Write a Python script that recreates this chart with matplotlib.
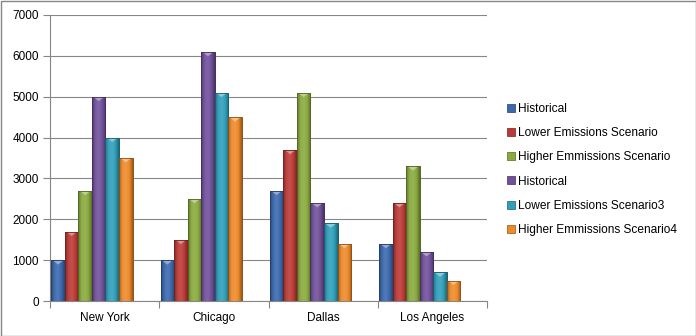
import numpy as np
import matplotlib
matplotlib.use("Agg")
import matplotlib.pyplot as plt
from matplotlib.colors import to_rgb, LinearSegmentedColormap
from matplotlib.patches import Patch, Rectangle

cities = ["New York", "Chicago", "Dallas", "Los Angeles"]
series_names = ["Historical", "Lower Emissions Scenario", "Higher Emmissions Scenario",
                "Historical", "Lower Emissions Scenario3", "Higher Emmissions Scenario4"]
historical_a = [1000, 1000, 2700, 1400]
lower_a = [1700, 1500, 3700, 2400]
higher_a = [2700, 2500, 5100, 3300]
historical_b = [5000, 6100, 2400, 1200]
lower_b = [4000, 5100, 1900, 700]
higher_b = [3500, 4500, 1400, 500]
series_values = [historical_a, lower_a, higher_a, historical_b, lower_b, higher_b]
colors = ["#3a68ad", "#bb3a36", "#8aaa3e", "#70509a", "#2f9fba", "#ee8a2a"]

plt.rcParams["font.family"] = ["Liberation Sans", "DejaVu Sans"]

fig = plt.figure(figsize=(6.96, 3.36), dpi=100)
ax = fig.add_axes([50 / 696, 1 - 301 / 336, 437 / 696, 286 / 336])

bar_w = 0.124
start = 0.012
x = np.arange(len(cities))


def shade(c, f):
    r = np.array(to_rgb(c))
    if f >= 0:
        return tuple(r + (1 - r) * f)
    return tuple(r * (1 + f))


for j, (vals, col) in enumerate(zip(series_values, colors)):
    bars = ax.bar(x + start + j * bar_w, vals, width=bar_w, align="edge",
                  color=col, edgecolor=shade(col, -0.35), linewidth=0.6, zorder=3)
    cmap = LinearSegmentedColormap.from_list(
        "g%d" % j, [shade(col, -0.30), shade(col, 0.05), shade(col, 0.12),
                    shade(col, 0.0), shade(col, -0.35)])
    grad = np.linspace(0, 1, 64).reshape(1, -1)
    for b in bars:
        x0, y0 = b.get_x(), b.get_y()
        w, h = b.get_width(), b.get_height()
        im = ax.imshow(grad, cmap=cmap, extent=[x0, x0 + w, y0, y0 + h],
                       aspect="auto", zorder=3.5, interpolation="bilinear")
        im.set_clip_path(b)
        # light cap at the top of each column
        cap = 110
        ax.fill([x0 + w * 0.15, x0 + w * 0.85, x0 + w * 0.5],
                [y0 + h - 15, y0 + h - 15, y0 + h - cap],
                color=shade(col, 0.45), zorder=3.8, lw=0)
        ax.add_patch(Rectangle((x0, y0), w, h, fill=False,
                               edgecolor=shade(col, -0.4), lw=0.6, zorder=4))

ax.set_xlim(0, 4)
ax.set_ylim(0, 7000)
ax.set_yticks(range(0, 7001, 1000))
ax.set_xticks([0, 1, 2, 3, 4])
ax.set_xticklabels([])
ax.set_xticks(x + 0.5, minor=True)
ax.set_xticklabels(cities, minor=True)
ax.tick_params(axis="x", which="minor", length=0, pad=8, labelsize=8.5)
ax.tick_params(axis="x", which="major", length=5, color="#868686", direction="out")
ax.tick_params(axis="y", length=5, color="#868686", direction="out", labelsize=8.5, pad=3)
ax.grid(axis="y", color="#868686", linewidth=0.8, zorder=0)
for s in ["top", "right"]:
    ax.spines[s].set_visible(False)
for s in ["left", "bottom"]:
    ax.spines[s].set_color("#868686")
    ax.spines[s].set_linewidth(0.8)

handles = [Patch(facecolor=c, edgecolor=shade(c, -0.4), linewidth=0.5) for c in colors]
fig.legend(handles, series_names, loc="upper left", bbox_to_anchor=(507 / 696, 1 - 103 / 336),
           frameon=False, fontsize=8.6, handlelength=0.65, handleheight=0.65,
           handletextpad=0.3, labelspacing=1.02, borderaxespad=0, borderpad=0)

fig.add_artist(Rectangle((0.5 / 696, 0.5 / 336), 695 / 696, 335 / 336, transform=fig.transFigure,
                         fill=False, edgecolor="#868686", linewidth=1))

fig.savefig("out.png", dpi=100)
